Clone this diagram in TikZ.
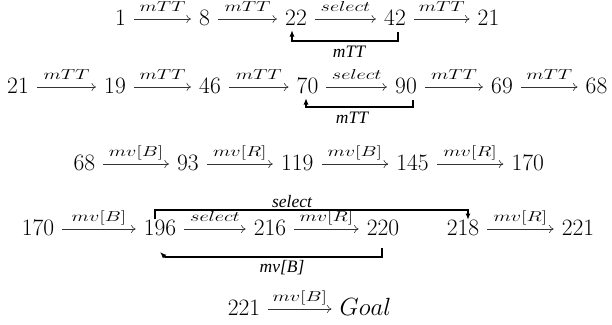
\documentclass[tikz,border=0pt]{standalone}
\usepackage{fontspec}
\usepackage{graphicx}
\usetikzlibrary{arrows.meta}
\newfontfamily\lbfont{Liberation Serif}
\newcommand\arlab[1]{\scalebox{1.4}[1]{\fontsize{14}{14}\selectfont$#1$}}
\newcommand\lplab[1]{{\lbfont\itshape\fontsize{17.5}{17.5}\selectfont #1}}
\tikzset{
 num/.style={font=\fontsize{23.5}{28}\selectfont, inner xsep=8pt, inner ysep=0pt, anchor=base},
 arr/.style={line width=0.6pt, draw=black!80, -{To[length=4.5pt,width=8pt]}},
 alab/.style={anchor=base, yshift=8pt, inner sep=0pt},
 lp/.style={line width=1.6pt, -{Latex[length=6.5pt,width=5pt]}},
 lpl/.style={anchor=base, inner sep=0pt}
}
\newcommand\arw[4]{\draw[arr] ([yshift=6pt]#1.base east) -- node[alab](#4){\arlab{#3}} ([yshift=6pt]#2.base west);}
\begin{document}
\begin{tikzpicture}[x=1pt,y=-1pt]
\useasboundingbox (0,0) rectangle (612,324);
% row 1
\node[num] (a1) at (120.5,25) {1};
\node[num] (a2) at (204.5,25) {8};
\node[num] (a3) at (296,25) {22};
\node[num] (a4) at (395,25) {42};
\node[num] (a5) at (488.5,25) {21};
\arw{a1}{a2}{mTT}{la1}
\arw{a2}{a3}{mTT}{la2}
\arw{a3}{a4}{select}{la3}
\arw{a4}{a5}{mTT}{la4}
\draw[lp] ([xshift=3pt,yshift=-7pt]a4.base) -- ([xshift=3pt,yshift=-16pt]a4.base) -| ([xshift=-4pt,yshift=-5pt]a3.base);
\node[lpl] (m1) at (349,57) {\lplab{mTT}};
% row 2
\node[num] (b1) at (18,93) {21};
\node[num] (b2) at (115,93) {19};
\node[num] (b3) at (210,93) {46};
\node[num] (b4) at (307.5,93) {70};
\node[num] (b5) at (406,93) {90};
\node[num] (b6) at (502,93) {69};
\node[num] (b7) at (596.5,93) {68};
\arw{b1}{b2}{mTT}{lb1}
\arw{b2}{b3}{mTT}{lb2}
\arw{b3}{b4}{mTT}{lb3}
\arw{b4}{b5}{select}{lb4}
\arw{b5}{b6}{mTT}{lb5}
\arw{b6}{b7}{mTT}{lb6}
\draw[lp] ([xshift=7pt,yshift=-7pt]b5.base) -- ([xshift=7pt,yshift=-14pt]b5.base) -| ([xshift=-1.5pt,yshift=-5pt]b4.base);
\node[lpl] (m2) at (352,123) {\lplab{mTT}};
% row 3
\node[num] (c1) at (84.4,170) {68};
\node[num] (c2) at (187.9,170) {93};
\node[num] (c3) at (297.2,170) {119};
\node[num] (c4) at (412.5,170) {145};
\node[num] (c5) at (527.7,170) {170};
\arw{c1}{c2}{mv[B]}{lc1}
\arw{c2}{c3}{mv[R]}{lc2}
\arw{c3}{c4}{mv[B]}{lc3}
\arw{c4}{c5}{mv[R]}{lc4}
% row 4
\node[num] (d1) at (38,235) {170};
\node[num] (d2) at (160,235) {196};
\node[num] (d3) at (270,235) {216};
\node[num] (d4) at (383,235) {220};
\node[num] (d5) at (463,235) {218};
\node[num] (d6) at (578,235) {221};
\arw{d1}{d2}{mv[B]}{ld1}
\arw{d2}{d3}{select}{ld2}
\arw{d3}{d4}{mv[R]}{ld3}
\arw{d5}{d6}{mv[R]}{ld4}
\draw[lp] ([xshift=-5pt,yshift=16pt]d2.base) -- ([xshift=-5pt,yshift=25pt]d2.base) -| ([xshift=5pt,yshift=15pt]d5.base);
\node[lpl] (m3) at (292,207) {\lplab{select}};
\draw[lp] ([xshift=-1pt,yshift=-13pt]d4.base) -- ([xshift=-1pt,yshift=-22pt]d4.base) -- ([xshift=5pt,yshift=-22pt]d2.base) -- ([xshift=0pt,yshift=-17pt]d2.base);
\node[lpl] (m4) at (282,272) {\lplab{mv[B]}};
% row 5
\node[num] (e1) at (244,315) {221};
\node[num] (e2) at (365.5,315) {$Goal$};
\arw{e1}{e2}{mv[B]}{le1}
\end{tikzpicture}
\end{document}
